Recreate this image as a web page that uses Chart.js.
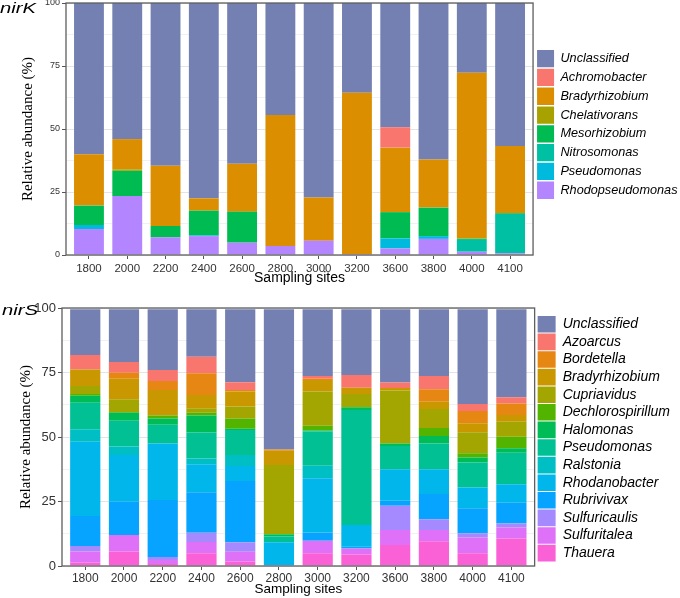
<!DOCTYPE html>
<html>
<head>
<meta charset="utf-8">
<script src="https://cdn.jsdelivr.net/npm/chart.js@4.4.1/dist/chart.umd.min.js"></script>
<style>
  html, body { margin: 0; padding: 0; background: #fff; }
  #wrap { position: relative; width: 680px; height: 598px; overflow: hidden; }
  canvas { position: absolute; left: 0; }
  #nirkChart { top: 0; }
  #nirsChart { top: 290px; }
  .gene { position: absolute; font-family: "Liberation Sans", Arial, sans-serif; font-style: italic;
          font-size: 15px; transform: scaleX(1.35); transform-origin: left top; color: #000; }
</style>
</head>
<body>
<div id="wrap">
  <canvas id="nirkChart" width="680" height="288"></canvas>
  <canvas id="nirsChart" width="680" height="308"></canvas>
  <div class="gene" style="left:0px; top:-1px;">nirK</div>
  <div class="gene" style="left:2px; top:301px;">nirS</div>
</div>
<script>
const sites = ['1800','2000','2200','2400','2600','2800','3000','3200','3600','3800','4000','4100'];

// nirK (%), listed bottom of stack first
const kRhodopseudomonas = [10.3, 23.4, 7.0, 7.5, 4.9, 3.6, 5.7, 0.4, 2.6, 6.4, 1.3, 0.7];
const kPseudomonas      = [1.6, 0, 0, 0.3, 0, 0, 0, 0, 4.0, 1.1, 0, 0];
const kNitrosomonas     = [0, 0, 0, 0, 0, 0, 0, 0, 0, 0, 4.7, 15.6];
const kMesorhizobium    = [7.7, 10.0, 4.5, 9.8, 12.3, 0, 0, 0, 10.4, 11.3, 0.5, 0.3];
const kChelativorans    = [0, 0.6, 0, 0, 0, 0, 0, 0, 0, 0, 0, 0];
const kBradyrhizobium   = [20.4, 12.0, 23.9, 4.9, 19.0, 52.0, 17.1, 64.0, 25.6, 19.1, 65.8, 26.7];
const kAchromobacter    = [0, 0, 0, 0, 0, 0, 0, 0, 8.1, 0, 0, 0];
const kUnclassified     = [60.0, 54.0, 64.6, 77.5, 63.8, 44.4, 77.2, 35.6, 49.3, 62.1, 27.7, 56.7];

// nirS (%), listed bottom of stack first
const sThauera           = [1.4, 5.6, 0.8, 4.9, 1.7, 0.3, 4.9, 4.5, 8.1, 9.6, 4.9, 10.7];
const sSulfuritalea      = [4.2, 6.4, 1.5, 4.4, 3.8, 0, 4.9, 2.3, 5.9, 4.4, 6.1, 4.2];
const sSulfuricaulis     = [2.2, 0, 1.2, 3.6, 3.7, 0, 0, 0, 9.4, 4.1, 1.7, 1.6];
const sRubrivivax        = [11.6, 12.9, 22.1, 15.7, 23.7, 0, 3.2, 0.7, 1.9, 9.8, 9.7, 8.0];
const sRhodanobacter     = [28.8, 18.1, 21.9, 10.8, 5.9, 8.9, 21.0, 8.4, 12.2, 9.6, 8.0, 7.2];
const sRalstonia         = [4.8, 3.3, 0, 2.3, 4.2, 0, 4.9, 0, 0, 0, 0, 0];
const sPseudomonas       = [10.3, 10.0, 7.2, 10.0, 9.7, 2.2, 13.2, 44.6, 9.0, 10.0, 9.7, 12.2];
const sHalomonas         = [2.7, 3.1, 2.5, 6.6, 0.5, 0.9, 0.4, 1.0, 1.0, 2.9, 2.0, 1.7];
const sDechlorospirillum = [0.7, 0.3, 1.1, 1.1, 4.0, 0, 1.9, 0, 0, 3.1, 1.6, 4.5];
const sCupriavidus       = [3.1, 4.9, 0.2, 1.7, 4.6, 26.8, 13.2, 5.2, 20.5, 7.4, 8.1, 5.8];
const sBradyrhizobium    = [6.4, 8.0, 9.7, 5.2, 5.8, 5.6, 4.5, 2.4, 1.0, 2.8, 3.5, 2.6];
const sBordetella        = [0, 2.3, 3.5, 8.4, 0.6, 0.5, 0.5, 0, 0, 4.8, 4.8, 4.5];
const sAzoarcus          = [5.6, 4.2, 4.3, 6.4, 3.0, 0, 1.0, 4.9, 2.1, 5.1, 2.7, 2.4];
const sUnclassified      = [17.7, 20.4, 23.5, 18.4, 28.3, 54.3, 25.9, 25.5, 28.4, 25.9, 36.7, 34.1];

const yTicks = [0, 25, 50, 75, 100];

const sans = '"Liberation Sans", Arial, sans-serif';
const serif = '"Liberation Serif", "Times New Roman", serif';

// grey box round the plot panel
const panelBorder = {
  id: 'panelBorder',
  afterDatasetsDraw(chart) {
    const { ctx, chartArea: a } = chart;
    ctx.save();
    ctx.strokeStyle = '#5e5e5e';
    ctx.lineWidth = 1.3;
    ctx.strokeRect(a.left, a.top, a.right - a.left, a.bottom - a.top);
    ctx.restore();
  }
};

// narrows the legend box and nudges it right, so the gap to the panel matches
const legendNudge = {
  id: 'legendNudge',
  beforeLayout(chart, args, opts) {
    const lg = chart.legend;
    if (!lg || lg._nudged) return;
    const fit = lg.fit.bind(lg);
    lg.fit = function () { fit(); this.width -= opts.trim; };
    lg._nudged = true;
  },
  afterLayout(chart, args, opts) {
    const lg = chart.legend;
    lg.left += opts.shift;
    lg.right += opts.shift;
  }
};

function series(label, data, color) {
  return { label, data, backgroundColor: color, borderWidth: 0,
           barPercentage: 0.78, categoryPercentage: 1 };
}

function makeChart(id, datasets, o) {
  const ctx = document.getElementById(id).getContext('2d');
  return new Chart(ctx, {
    type: 'bar',
    data: { labels: sites, datasets },
    plugins: [panelBorder, legendNudge],
    options: {
      responsive: false,
      animation: false,
      devicePixelRatio: 1,
      layout: { padding: o.padding },
      scales: {
        x: {
          stacked: true,
          border: { display: false },
          // ggplot-style 0.6 category expansion on each side instead of 0.5
          afterBuildTicks(scale) {
            scale._startValue -= 0.1;
            scale._valueRange += 0.2;
          },
          grid: { offset: false, drawOnChartArea: false, drawTicks: true, tickLength: 4, tickColor: '#555' },
          ticks: { color: '#333', font: { family: sans, size: o.xFont }, padding: o.xPad, maxRotation: 0 },
          title: { display: true, text: 'Sampling sites', color: '#000',
                   font: { family: sans, size: o.xTitle }, padding: { top: 0, bottom: 1 } },
          afterFit(scale) { scale.height = o.xHeight; }
        },
        y: {
          stacked: true,
          min: 0,
          max: 100,
          border: { display: false },
          afterBuildTicks(scale) {
            const t = [];
            for (let v = 0; v <= 100; v += 12.5) t.push({ value: v });
            scale.ticks = t;
          },
          grid: {
            color: c => (yTicks.includes(c.tick.value) ? '#e4e4e4' : '#f1f1f1'),
            tickColor: c => (yTicks.includes(c.tick.value) ? '#555' : 'rgba(0,0,0,0)'),
            tickLength: 4
          },
          ticks: {
            color: '#333',
            font: { family: sans, size: o.yFont },
            padding: 2,
            callback: v => (yTicks.includes(v) ? String(v) : '')
          },
          title: { display: true, text: 'Relative abundance (%)', color: '#000',
                   font: { family: serif, size: 15 }, padding: { top: o.yTitlePad, bottom: 0 } },
          afterFit(scale) {
            scale.width = o.yWidth;
            scale.paddingTop = 0;
            scale.paddingBottom = 0;
          }
        }
      },
      plugins: {
        tooltip: { enabled: false },
        legendNudge: { trim: o.trim, shift: o.shift },
        legend: {
          position: 'right',
          align: 'start',
          fullSize: false,
          reverse: true,
          title: { display: true, text: ' ', font: { size: o.gapFont }, padding: { top: o.legendGap, bottom: 0 } },
          labels: {
            color: '#000',
            boxWidth: o.boxW,
            boxHeight: o.boxH,
            padding: o.legendPad,
            font: { family: sans, size: o.legendFont, style: 'italic' }
          }
        }
      }
    }
  });
}

makeChart('nirkChart', [
  series('Rhodopseudomonas', kRhodopseudomonas, '#B385FF'),
  series('Pseudomonas', kPseudomonas, '#00BADE'),
  series('Nitrosomonas', kNitrosomonas, '#00C0A3'),
  series('Mesorhizobium', kMesorhizobium, '#00BA52'),
  series('Chelativorans', kChelativorans, '#A8A200'),
  series('Bradyrhizobium', kBradyrhizobium, '#DB8E00'),
  series('Achromobacter', kAchromobacter, '#F8766D'),
  series('Unclassified', kUnclassified, '#7480B2')
], { padding: { top: 3, right: 0, left: 0, bottom: 0 }, xFont: 11.5, xPad: 3, xTitle: 14, xHeight: 33,
     yFont: 9, yTitlePad: 19, yWidth: 66, gapFont: 10, legendGap: 33.5, boxW: 17, boxH: 17.3, legendPad: 1.5,
     legendFont: 12.7, trim: 5, shift: 2.5 });

makeChart('nirsChart', [
  series('Thauera', sThauera, '#FB61D7'),
  series('Sulfuritalea', sSulfuritalea, '#DF70F8'),
  series('Sulfuricaulis', sSulfuricaulis, '#A58AFF'),
  series('Rubrivivax', sRubrivivax, '#06A4FF'),
  series('Rhodanobacter', sRhodanobacter, '#00B6EB'),
  series('Ralstonia', sRalstonia, '#00BFC4'),
  series('Pseudomonas', sPseudomonas, '#00C094'),
  series('Halomonas', sHalomonas, '#00BC56'),
  series('Dechlorospirillum', sDechlorospirillum, '#53B400'),
  series('Cupriavidus', sCupriavidus, '#A3A500'),
  series('Bradyrhizobium', sBradyrhizobium, '#C99800'),
  series('Bordetella', sBordetella, '#E68613'),
  series('Azoarcus', sAzoarcus, '#F8766D'),
  series('Unclassified', sUnclassified, '#7480B2')
], { padding: { top: 18, right: 0, left: 0, bottom: 0 }, xFont: 12, xPad: 1, xTitle: 13.5, xHeight: 32,
     yFont: 13, yTitlePad: 17, yWidth: 62, gapFont: 5, legendGap: 1, boxW: 18, boxH: 16.6, legendPad: 1,
     legendFont: 14, trim: -2, shift: 2 });
</script>
</body>
</html>
